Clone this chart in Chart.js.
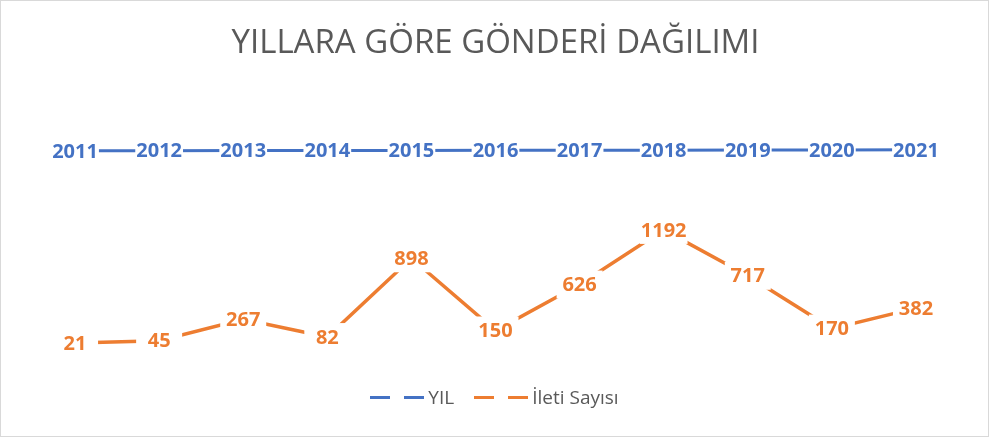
<!DOCTYPE html>
<html>
<head>
<meta charset="utf-8">
<script src="https://cdn.jsdelivr.net/npm/chart.js@4"></script>
<style>
  body { margin: 0; background: #fff; }
  #wrap { position: relative; width: 989px; height: 437px; }
  #legend {
    position: absolute; left: 0; top: 384px; width: 989px; height: 26px;
    display: flex; justify-content: center; align-items: center;
    font-family: "Open Sans", sans-serif; font-size: 19px; color: #595959;
  }
  .item { display: flex; align-items: center; margin: 0 10px; }
  .dash { width: 20px; height: 3px; margin-right: 14px; }
  .dash:nth-child(2) { margin-right: 4px; }
</style>
</head>
<body>
<div id="wrap">
  <canvas id="line-chart" width="989" height="437"></canvas>
  <div id="legend">
    <div class="item"><span class="dash" style="background:#4472C4"></span><span class="dash" style="background:#4472C4"></span>YIL</div>
    <div class="item"><span class="dash" style="background:#ED7D31"></span><span class="dash" style="background:#ED7D31"></span>İleti Sayısı</div>
  </div>
</div>
<script>
// Categories and series
const categories = ['2011', '2012', '2013', '2014', '2015', '2016', '2017', '2018', '2019', '2020', '2021'];
const years = [2011, 2012, 2013, 2014, 2015, 2016, 2017, 2018, 2019, 2020, 2021];
const messages = [21, 45, 267, 82, 898, 150, 626, 1192, 717, 170, 382];

// Draw the grey frame around the chart
const frame = {
  id: 'frame',
  beforeDraw(chart) {
    const ctx = chart.ctx;
    ctx.save();
    ctx.fillStyle = '#fff';
    ctx.fillRect(0, 0, chart.width, chart.height);
    ctx.strokeStyle = '#d9d9d9';
    ctx.lineWidth = 1;
    ctx.strokeRect(0.5, 0.5, chart.width - 1, chart.height - 1);
    ctx.restore();
  }
};

// Data labels on a white box, centred on each point
const valueLabels = {
  id: 'valueLabels',
  afterDatasetsDraw(chart) {
    const ctx = chart.ctx;
    ctx.save();
    ctx.font = 'bold 20px "Open Sans"';
    ctx.textAlign = 'center';
    ctx.textBaseline = 'middle';
    chart.data.datasets.forEach((ds, i) => {
      chart.getDatasetMeta(i).data.forEach((pt, j) => {
        const txt = String(ds.data[j]);
        const w = Math.max(ctx.measureText(txt).width + 2, 46);
        ctx.fillStyle = '#fff';
        ctx.fillRect(pt.x - w / 2, pt.y - 14, w, 28);
        ctx.fillStyle = ds.borderColor;
        ctx.fillText(txt, pt.x, pt.y + 1);
      });
    });
    ctx.restore();
  }
};

const data = {
  labels: categories,
  datasets: [{
    label: 'YIL',
    data: years,
    borderColor: '#4472C4',
    borderWidth: 3,
    pointRadius: 0
  }, {
    label: 'İleti Sayısı',
    data: messages,
    borderColor: '#ED7D31',
    borderWidth: 3.5,
    pointRadius: 0
  }]
};

const config = {
  type: 'line',
  data: data,
  options: {
    responsive: false,
    animation: false,
    layout: { padding: { left: 33, right: 31, bottom: 92 } },
    plugins: {
      legend: { display: false },
      tooltip: { enabled: false },
      title: {
        display: true,
        text: 'YILLARA GÖRE GÖNDERİ DAĞILIMI',
        color: '#595959',
        font: { family: 'Open Sans', size: 33, weight: 'normal' },
        padding: { top: 24, bottom: 40 }
      }
    },
    scales: {
      x: { display: false, offset: true },
      y: { display: false, min: 0, max: 2500 }
    }
  },
  plugins: [frame, valueLabels]
};

var myChart = new Chart(document.getElementById('line-chart'), config);
</script>
</body>
</html>
